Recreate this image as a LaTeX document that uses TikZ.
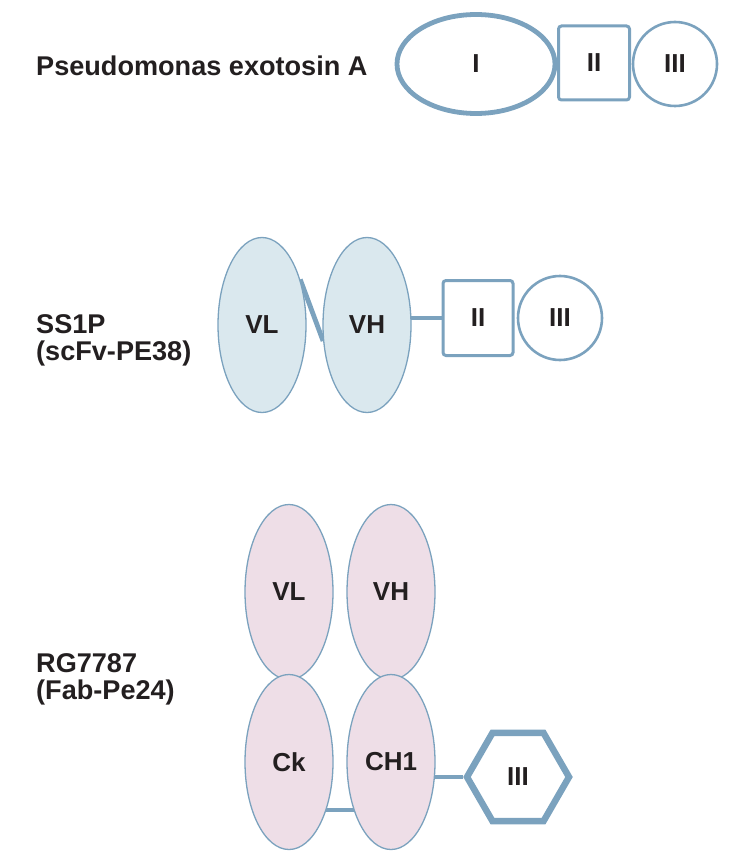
\documentclass[tikz,border=0pt]{standalone}
\usepackage{fontspec}
\setmainfont{Liberation Sans}
\usetikzlibrary{shapes.geometric,backgrounds}
\definecolor{edgeblue}{HTML}{7BA2BE}
\definecolor{fillblue}{HTML}{DAE8EE}
\definecolor{fillpink}{HTML}{EEDEE7}
\definecolor{ink}{HTML}{231F20}
\tikzset{
  lbl/.style={font=\fontsize{27.1}{27}\selectfont\bfseries, text=ink, inner sep=0pt, anchor=base west},
  dom/.style={font=\fontsize{26}{26}\selectfont\bfseries, text=ink, draw=edgeblue, inner sep=0pt},
  oval/.style={dom, ellipse},
  vdom/.style={oval, line width=1.3pt, minimum width=88pt, minimum height=175pt},
  boxdom/.style={dom, rectangle, rounded corners=3pt, line width=3pt},
  ringdom/.style={dom, circle, line width=2.6pt},
  linker/.style={draw=edgeblue, line width=4.8pt}
}
\begin{document}
\begin{tikzpicture}[x=1pt,y=-1pt]
\useasboundingbox (0,0) rectangle (736,861);
% Top row
\node[lbl] (pelbl) at (36,76) {Pseudomonas exotosin A};
\node[oval, line width=4.8pt, minimum width=158pt, minimum height=99pt] (pI) at (476,64) {I};
\node[boxdom, minimum width=71pt, minimum height=74pt] (pII) at (594,63) {II};
\node[ringdom, minimum size=84pt] (pIII) at (675,64) {III};
% Middle row
\node[lbl] (sslbl) at (36,333) {SS1P};
\node[lbl] (sslbl2) at (36,360) {(scFv-PE38)};
\node[vdom, fill=fillblue] (sVL) at (262,325) {VL};
\node[vdom, fill=fillblue] (sVH) at (367,325) {VH};
\node[boxdom, fill=white, minimum width=70pt, minimum height=75pt] (sII) at (478,318) {II};
\node[ringdom, fill=white, minimum size=84pt] (sIII) at (560,318) {III};
% Bottom row
\node[lbl] (rglbl) at (36,672) {RG7787};
\node[lbl] (rglbl2) at (36,699) {(Fab-Pe24)};
\node[vdom, fill=fillpink] (rVL) at (289,592) {VL};
\node[vdom, fill=fillpink] (rVH) at (391,592) {VH};
\node[vdom, fill=fillpink] (rCk) at (289,762) {Ck};
\node[vdom, fill=fillpink] (rCH) at (391,762) {CH1};
\node[dom, regular polygon, regular polygon sides=6, line width=6.5pt, fill=white, minimum size=102pt] (rIII) at (518,777) {III};
\coordinate (ckl) at (289,810);
\begin{scope}[on background layer]
  \draw[linker] (sVL.50) -- (sVH.200);
  \draw[linker] (sII.west) -- (sII.west -| sVH.center);
  \draw[linker] (ckl) -- (ckl -| rCH.center);
  \draw[linker] (rIII.west) -- (rIII.west -| rCH.center);
\end{scope}
\end{tikzpicture}
\end{document}
